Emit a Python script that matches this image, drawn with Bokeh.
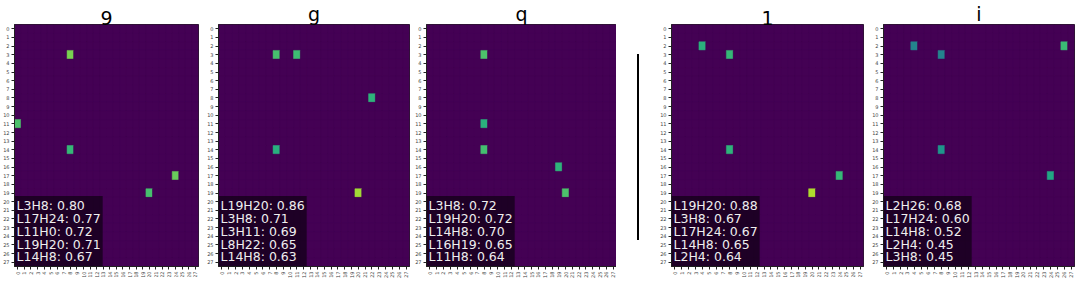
import math
from bokeh.plotting import figure
from bokeh.models import Range1d, LinearColorMapper, Label, FixedTicker, ColumnDataSource, Div
from bokeh.layouts import row
from bokeh.palettes import Viridis256
from bokeh.embed import file_html
from bokeh.resources import INLINE
from bokeh.transform import transform

# ---------------- data ----------------
n_layers = 28
n_heads = 28
titles = ["9", "g", "q", "1", "i"]

layers_9 = [3, 17, 11, 19, 14]
heads_9 = [8, 24, 0, 20, 8]
scores_9 = [0.80, 0.77, 0.72, 0.71, 0.67]

layers_g = [19, 3, 3, 8, 14]
heads_g = [20, 8, 11, 22, 8]
scores_g = [0.86, 0.71, 0.69, 0.65, 0.63]

layers_q = [3, 19, 14, 16, 11]
heads_q = [8, 20, 8, 19, 8]
scores_q = [0.72, 0.72, 0.70, 0.65, 0.64]

layers_1 = [19, 3, 17, 14, 2]
heads_1 = [20, 8, 24, 8, 4]
scores_1 = [0.88, 0.67, 0.67, 0.65, 0.64]

layers_i = [2, 17, 14, 2, 3]
heads_i = [26, 24, 8, 4, 8]
scores_i = [0.68, 0.60, 0.52, 0.45, 0.45]

panels = [
    (layers_9, heads_9, scores_9),
    (layers_g, heads_g, scores_g),
    (layers_q, heads_q, scores_q),
    (layers_1, heads_1, scores_1),
    (layers_i, heads_i, scores_i),
]

# ---------------- layout ----------------
FONT = "DejaVu Sans"
FH = 242
frame_widths = [184, 191, 190, 192, 191]
border_left = [13, 17, 15, 17, 18]
border_right = [3, 2, 0, 2, 3]

mapper = LinearColorMapper(palette=Viridis256, low=0.0, high=1.0)


def make_panel(idx):
    layers, heads, scores = panels[idx]
    grid = {}
    for l, h, s in zip(layers, heads, scores):
        grid[(l, h)] = s
    xs, ys, vs = [], [], []
    for l in range(n_layers):
        for h in range(n_heads):
            xs.append(h)
            ys.append(l)
            vs.append(grid.get((l, h), 0.0))
    src = ColumnDataSource(dict(x=xs, y=ys, v=vs))

    p = figure(
        frame_width=frame_widths[idx], frame_height=FH,
        x_range=Range1d(-0.5, n_heads - 0.5),
        y_range=Range1d(n_layers - 0.5, -0.5),
        output_backend="svg", toolbar_location=None,
        min_border_left=border_left[idx], min_border_right=border_right[idx],
        min_border_top=20, min_border_bottom=15,
        title=titles[idx],
    )
    p.title.align = "center"
    p.title.text_font = FONT
    p.title.text_font_size = "19px"
    p.title.text_font_style = "normal"
    p.title.text_color = "black"
    p.title.standoff = 0
    p.title.offset = 0

    p.rect(x="x", y="y", width=1, height=1, source=src,
           fill_color=transform("v", mapper), line_color=transform("v", mapper),
           line_width=0.5)

    p.xgrid.visible = False
    p.ygrid.visible = False
    p.outline_line_color = "#222222"
    p.outline_line_width = 1
    p.background_fill_color = "#440154"

    for ax in (p.xaxis[0], p.yaxis[0]):
        ax.major_label_text_font = FONT
        ax.major_label_text_font_size = "5px"
        ax.major_label_text_color = "#444444"
        ax.major_tick_out = 3
        ax.major_tick_in = 0
        ax.minor_tick_line_color = None
        ax.axis_line_color = "#222222"
        ax.major_tick_line_color = "#222222"
        ax.major_label_standoff = 2
    p.xaxis.ticker = FixedTicker(ticks=list(range(n_heads)))
    p.yaxis.ticker = FixedTicker(ticks=list(range(n_layers)))
    p.xaxis.major_label_orientation = math.pi / 2

    lines = ["L%dH%d: %.2f" % (l, h, s) for l, h, s in zip(layers, heads, scores)]
    lab = Label(
        x=-0.5, y=n_layers - 0.5, x_units="data", y_units="data",
        text="\n".join(lines), anchor="bottom_left",
        text_font=FONT, text_font_size="12.5px", text_color="#eeeeee",
        text_line_height=0.86,
        background_fill_color="black", background_fill_alpha=0.55,
        padding=2,
    )
    p.add_layout(lab)
    return p


figs = [make_panel(i) for i in range(5)]

# separator between the two groups of panels
sep = Div(
    width=28, height=240,
    text='<div style="margin-left:16px;margin-top:49px;width:2px;height:186px;background:#000"></div>',
)

layout = row(figs[0], figs[1], figs[2], sep, figs[3], figs[4], spacing=0)

open("out.html", "w").write(file_html(layout, INLINE))
